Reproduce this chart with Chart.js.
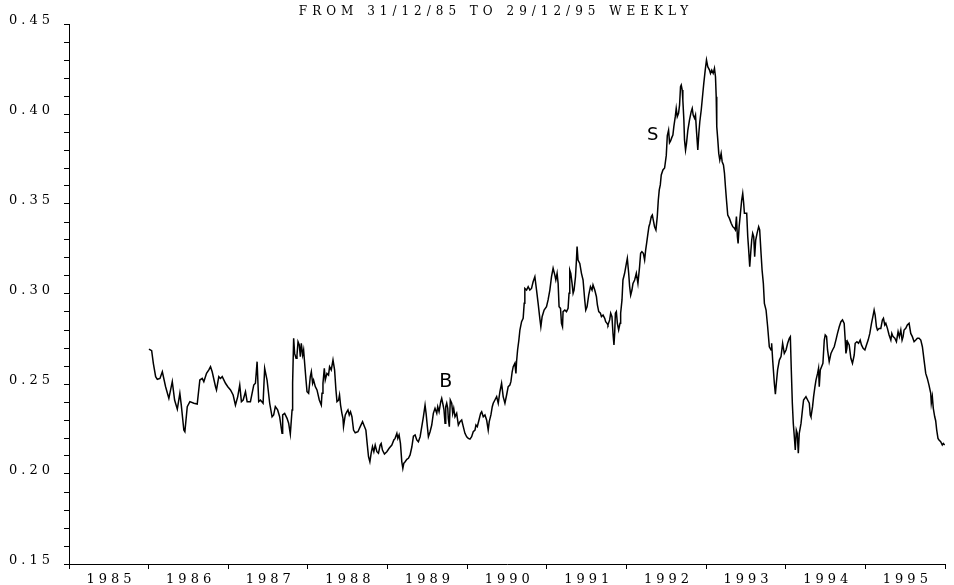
<!DOCTYPE html>
<html>
<head>
<meta charset="utf-8">
<script src="https://cdn.jsdelivr.net/npm/chart.js@4.4.1/dist/chart.umd.min.js"></script>
<style>
  html, body { margin: 0; padding: 0; background: #fff; }
</style>
</head>
<body>
<canvas id="rateChart" width="954" height="585"></canvas>
<script>
// weekly readings, time in years after 31/12/85 (one line per calendar year)
const tYears = [
  0.004,0.038,0.059,0.088,0.109,0.142,0.172,0.213,0.254,0.297,0.326,0.360,0.392,0.410,0.442,0.455,0.485,0.518,0.568,0.610,0.643,0.673,0.693,0.727,0.756,0.777,0.798,0.840,0.852,0.881,0.902,0.924,0.965,0.994,
  1.028,1.061,1.090,1.119,1.144,1.165,1.187,1.216,1.237,1.278,1.320,1.341,1.362,1.382,1.404,1.437,1.457,1.487,1.520,1.550,1.570,1.591,1.620,1.645,1.675,1.683,1.708,1.738,1.758,1.779,1.801,1.808,1.821,1.833,1.851,1.863,1.876,1.892,1.905,1.917,1.934,1.946,1.959,1.976,1.989,
  2.009,2.030,2.043,2.059,2.071,2.093,2.114,2.143,2.168,2.177,2.189,2.206,2.218,2.239,2.259,2.272,2.293,2.315,2.335,2.352,2.365,2.385,2.397,2.410,2.427,2.440,2.447,2.469,2.490,2.503,2.519,2.535,2.553,2.573,2.594,2.628,2.657,2.686,2.711,2.728,2.744,2.761,2.778,2.794,2.811,2.828,2.845,2.866,2.886,2.907,2.920,2.936,2.961,2.991,
  3.020,3.054,3.079,3.095,3.117,3.129,3.145,3.162,3.179,3.192,3.204,3.221,3.242,3.262,3.283,3.305,3.325,3.346,3.367,3.387,3.409,3.430,3.450,3.471,3.484,3.500,3.513,3.534,3.555,3.575,3.596,3.618,3.630,3.647,3.668,3.680,3.693,3.709,3.722,3.731,3.743,3.756,3.763,3.776,3.788,3.806,3.818,3.831,3.847,3.868,3.889,3.910,3.931,3.951,3.972,3.994,
  4.014,4.035,4.056,4.076,4.098,4.110,4.127,4.148,4.169,4.182,4.202,4.223,4.244,4.264,4.277,4.298,4.315,4.327,4.348,4.370,4.390,4.411,4.432,4.452,4.474,4.495,4.515,4.536,4.549,4.565,4.578,4.599,4.612,4.620,4.633,4.649,4.662,4.683,4.703,4.716,4.724,4.746,4.766,4.787,4.808,4.828,4.850,4.871,4.891,4.912,4.925,4.941,4.966,4.996,
  5.016,5.038,5.059,5.079,5.100,5.113,5.129,5.142,5.154,5.172,5.184,5.197,5.204,5.226,5.247,5.267,5.279,5.288,5.301,5.317,5.330,5.342,5.360,5.372,5.380,5.392,5.414,5.435,5.455,5.476,5.489,5.505,5.526,5.548,5.568,5.580,5.602,5.623,5.635,5.652,5.673,5.686,5.706,5.727,5.739,5.756,5.768,5.789,5.802,5.818,5.831,5.843,5.852,5.861,5.873,5.886,5.902,5.919,5.927,5.944,5.956,5.977,5.999,
  6.011,6.028,6.040,6.053,6.069,6.082,6.103,6.124,6.144,6.165,6.178,6.194,6.212,6.228,6.241,6.253,6.270,6.282,6.295,6.312,6.325,6.337,6.353,6.370,6.387,6.400,6.412,6.425,6.437,6.458,6.479,6.500,6.513,6.529,6.541,6.554,6.570,6.583,6.595,6.613,6.625,6.638,6.654,6.667,6.679,6.688,6.700,6.708,6.721,6.729,6.742,6.754,6.771,6.792,6.813,6.826,6.838,6.855,6.867,6.880,6.896,6.909,6.921,6.939,6.959,6.971,6.989,
  7.005,7.021,7.043,7.055,7.071,7.089,7.105,7.118,7.127,7.134,7.147,7.159,7.172,7.189,7.202,7.218,7.231,7.243,7.256,7.272,7.293,7.315,7.335,7.356,7.368,7.381,7.393,7.402,7.415,7.431,7.447,7.460,7.472,7.481,7.498,7.510,7.523,7.535,7.548,7.560,7.573,7.585,7.598,7.610,7.623,7.640,7.660,7.673,7.690,7.703,7.719,7.732,7.753,7.773,7.794,7.816,7.823,7.836,7.857,7.870,7.882,7.898,7.920,7.941,7.961,7.982,
  8.004,8.024,8.045,8.058,8.070,8.083,8.095,8.108,8.120,8.133,8.145,8.158,8.170,8.192,8.212,8.224,8.254,8.275,8.296,8.308,8.317,8.337,8.350,8.367,8.380,8.400,8.412,8.421,8.434,8.450,8.467,8.484,8.496,8.513,8.525,8.546,8.568,8.588,8.609,8.630,8.650,8.672,8.693,8.713,8.734,8.747,8.756,8.768,8.776,8.797,8.818,8.838,8.860,8.872,8.894,8.914,8.935,8.951,8.972,8.994,
  9.014,9.035,9.056,9.077,9.098,9.110,9.123,9.139,9.152,9.173,9.194,9.214,9.227,9.244,9.257,9.277,9.298,9.320,9.332,9.348,9.370,9.390,9.411,9.427,9.445,9.461,9.474,9.486,9.507,9.527,9.549,9.570,9.590,9.612,9.633,9.653,9.674,9.696,9.716,9.737,9.758,9.778,9.799,9.821,9.828,9.841,9.853,9.871,9.883,9.896,9.912,9.925,9.946,9.966,9.979,9.996
];

const rates = [
  .2694,.2685,.2615,.2541,.2526,.2531,.2568,.2485,.2420,.2513,.2411,.2360,.2448,.2383,.2244,.2235,.2374,.2402,.2393,.2389,.2522,.2531,.2513,.2559,.2578,.2596,.2568,.2485,.2467,.2541,.2531,.2541,.2504,.2485,
  .2467,.2439,.2383,.2430,.2494,.2402,.2411,.2457,.2402,.2402,.2494,.2504,.2624,.2402,.2411,.2393,.2587,.2522,.2393,.2318,.2328,.2374,.2356,.2318,.2226,.2328,.2337,.2309,.2282,.2222,.2356,.2504,.2754,.2670,.2643,.2661,.2735,.2717,.2652,.2726,.2661,.2689,.2615,.2522,.2457,
  .2448,.2541,.2568,.2504,.2522,.2485,.2467,.2411,.2383,.2448,.2504,.2587,.2522,.2559,.2550,.2596,.2578,.2633,.2578,.2467,.2402,.2411,.2439,.2383,.2337,.2309,.2263,.2328,.2346,.2356,.2328,.2346,.2318,.2244,.2229,.2235,.2263,.2291,.2263,.2244,.2170,.2096,.2068,.2115,.2152,.2124,.2161,.2124,.2115,.2161,.2170,.2133,.2111,.2124,
  .2143,.2161,.2189,.2198,.2226,.2198,.2217,.2170,.2068,.2031,.2059,.2068,.2081,.2087,.2106,.2150,.2210,.2217,.2189,.2179,.2207,.2263,.2318,.2383,.2337,.2263,.2207,.2235,.2272,.2337,.2365,.2337,.2374,.2346,.2402,.2420,.2393,.2356,.2282,.2374,.2393,.2365,.2309,.2263,.2411,.2393,.2337,.2365,.2318,.2337,.2272,.2291,.2300,.2263,.2226,.2207,
  .2198,.2194,.2207,.2235,.2244,.2272,.2263,.2300,.2337,.2346,.2318,.2328,.2300,.2244,.2291,.2328,.2374,.2393,.2411,.2430,.2393,.2457,.2504,.2430,.2393,.2439,.2485,.2494,.2513,.2568,.2596,.2615,.2559,.2624,.2689,.2744,.2800,.2846,.2865,.2948,.3031,.3022,.3041,.3022,.3031,.3068,.3096,.3022,.2948,.2865,.2818,.2874,.2911,.2929,
  .2967,.3022,.3096,.3143,.3106,.3078,.3115,.3059,.2929,.2920,.2837,.2818,.2902,.2911,.2902,.2920,.3004,.3133,.3115,.3059,.3004,.3022,.3096,.3189,.3263,.3189,.3170,.3115,.3078,.2967,.2911,.2929,.2994,.3041,.3022,.3050,.3022,.2985,.2939,.2902,.2893,.2874,.2883,.2865,.2846,.2837,.2828,.2856,.2893,.2874,.2781,.2717,.2781,.2893,.2902,.2837,.2800,.2837,.2893,.2967,.3078,.3115,.3170,
  .3198,.3115,.3041,.2994,.3022,.3059,.3078,.3115,.3059,.3152,.3226,.3235,.3226,.3189,.3244,.3281,.3337,.3374,.3393,.3430,.3439,.3411,.3374,.3356,.3430,.3522,.3578,.3606,.3661,.3689,.3700,.3770,.3880,.3910,.3840,.3850,.3870,.3883,.3930,.3985,.4031,.3985,.4004,.4050,.4152,.4161,.4133,.4078,.3967,.3856,.3800,.3837,.3911,.3967,.4013,.4031,.3994,.3976,.3994,.3902,.3800,.3893,.3957,.4022,.4115,.4170,.4244,
  .4300,.4263,.4244,.4226,.4244,.4226,.4254,.4207,.4096,.3930,.3856,.3781,.3744,.3781,.3735,.3717,.3670,.3596,.3522,.3439,.3420,.3393,.3374,.3365,.3356,.3430,.3319,.3281,.3374,.3448,.3522,.3559,.3504,.3448,.3448,.3448,.3319,.3244,.3152,.3226,.3300,.3337,.3319,.3207,.3300,.3337,.3374,.3356,.3226,.3133,.3059,.2948,.2911,.2818,.2707,.2689,.2726,.2633,.2504,.2444,.2504,.2578,.2633,.2652,.2726,.2670,
  .2689,.2726,.2754,.2763,.2578,.2393,.2281,.2207,.2133,.2244,.2226,.2115,.2226,.2281,.2365,.2411,.2430,.2411,.2393,.2328,.2318,.2374,.2430,.2485,.2522,.2559,.2587,.2485,.2578,.2596,.2615,.2744,.2772,.2763,.2689,.2624,.2670,.2689,.2707,.2744,.2781,.2818,.2846,.2856,.2837,.2744,.2670,.2698,.2735,.2717,.2643,.2615,.2661,.2726,.2735,.2726,.2744,.2717,.2698,.2689,
  .2717,.2744,.2781,.2837,.2883,.2911,.2883,.2818,.2800,.2809,.2809,.2856,.2865,.2828,.2837,.2809,.2772,.2744,.2781,.2763,.2754,.2735,.2791,.2763,.2800,.2744,.2763,.2800,.2809,.2828,.2837,.2781,.2763,.2735,.2744,.2754,.2754,.2744,.2707,.2633,.2559,.2531,.2494,.2448,.2393,.2430,.2365,.2318,.2296,.2244,.2198,.2189,.2179,.2161,.2170,.2161
];

const startYear = 1986;
const yearLabels = ['1985', '1986', '1987', '1988', '1989', '1990', '1991', '1992', '1993', '1994', '1995'];
const yTickLabels = ['0.15', '0.20', '0.25', '0.30', '0.35', '0.40', '0.45'];
const chartTitle = 'FROM 31/12/85 TO 29/12/95 WEEKLY';

// hand-written marks on the chart: text, year, value
const markText = ['B', 'S'];
const markYear = [1989.73, 1992.33];
const markValue = [0.251, 0.388];

// draws the title and the B / S marks, and sets the wide letter spacing
const textOverlay = {
  id: 'textOverlay',
  beforeLayout(chart) {
    chart.ctx.letterSpacing = '4px';
  },
  beforeDraw(chart) {
    chart.ctx.letterSpacing = '4px';
  },
  afterDraw(chart) {
    const ctx = chart.ctx;
    const xs = chart.scales.x;
    const ys = chart.scales.y;
    ctx.save();
    ctx.fillStyle = '#000';
    ctx.textAlign = 'center';
    ctx.textBaseline = 'middle';
    ctx.font = '12px "DejaVu Serif"';
    ctx.letterSpacing = '5px';
    ctx.fillText(chartTitle, 496, 12);
    ctx.letterSpacing = '0px';
    markText.forEach((t, i) => {
      ctx.font = (t === 'B' ? '19px' : '18px') + ' "DejaVu Sans"';
      ctx.fillText(t, xs.getPixelForValue(markYear[i]), ys.getPixelForValue(markValue[i]));
    });
    ctx.restore();
  }
};

const tickFont = { family: 'DejaVu Serif', size: 13 };

const ctx = document.getElementById('rateChart').getContext('2d');
const rateChart = new Chart(ctx, {
  type: 'line',
  data: {
    datasets: [{
      data: tYears.map((t, i) => ({ x: startYear + t, y: rates[i] })),
      borderColor: '#000',
      borderWidth: 1.5,
      pointRadius: 0,
      tension: 0,
      fill: false
    }]
  },
  options: {
    responsive: false,
    animation: false,
    layout: { padding: { top: 24, right: 9, left: 0, bottom: 0 } },
    plugins: {
      legend: { display: false },
      tooltip: { enabled: false }
    },
    scales: {
      x: {
        type: 'linear',
        min: 1985,
        max: 1996,
        afterFit: s => { s.height = 21; },
        grid: { drawOnChartArea: false, tickLength: 5, tickColor: '#000' },
        border: { display: true, color: '#000', width: 1 },
        ticks: {
          stepSize: 1,
          autoSkip: false,
          maxRotation: 0,
          labelOffset: 42,
          padding: 3,
          color: '#000',
          font: tickFont,
          callback: v => yearLabels[Math.round(v) - 1985] || ''
        }
      },
      y: {
        min: 0.15,
        max: 0.45,
        afterFit: s => { s.width = 69; },
        grid: { drawOnChartArea: false, tickLength: 5, tickColor: '#000' },
        border: { display: true, color: '#000', width: 1 },
        ticks: {
          stepSize: 0.01,
          autoSkip: false,
          labelOffset: -3,
          padding: 10,
          color: '#000',
          font: tickFont,
          callback: v => yTickLabels.includes(v.toFixed(2)) ? v.toFixed(2) : ''
        }
      }
    }
  },
  plugins: [textOverlay]
});
</script>
</body>
</html>
